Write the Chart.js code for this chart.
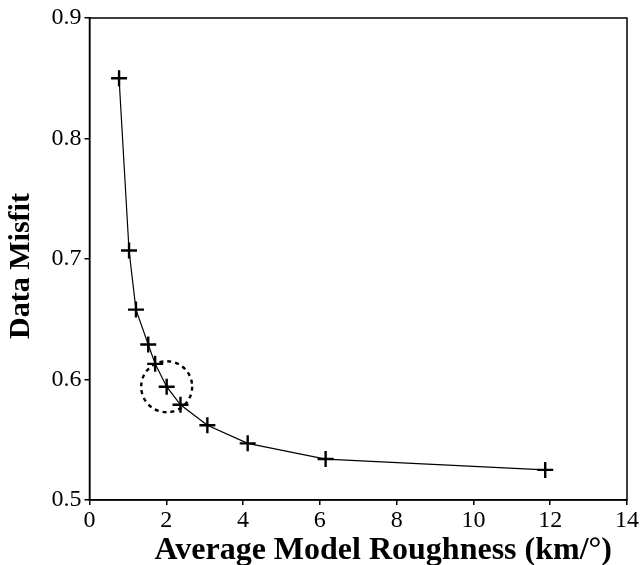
<!DOCTYPE html>
<html lang="en">
  <head>
    <meta charset="UTF-8">
    <title>Data Misfit vs Roughness</title>
    <script src="https://cdn.jsdelivr.net/npm/chart.js@4.3.0/dist/chart.umd.min.js"></script>
    <style>
      body { margin: 0; background: #fff; }
      .wrap { width: 640px; height: 565px; }
    </style>
  </head>
  <body>
<div class="wrap">
  <canvas id="tradeoff"></canvas>
</div>
<script>
// trade-off curve
var roughness = [0.77, 1.03, 1.21, 1.53, 1.71, 2.01, 2.37, 3.07, 4.12, 6.15, 11.87];
var misfit = [0.850, 0.707, 0.658, 0.629, 0.613, 0.594, 0.579, 0.562, 0.547, 0.534, 0.525];
// the chosen model (dashed circle)
var pickX = [2.01];
var pickY = [0.594];
var xTicks = [0, 2, 4, 6, 8, 10, 12, 14];
var yTicks = [0.5, 0.6, 0.7, 0.8, 0.9];
var xTitle = 'Average Model Roughness (km/°)';
var yTitle = 'Data Misfit';

var pts = [];
for (let i = 0; i < roughness.length; i++) {
  pts.push({x: roughness[i], y: misfit[i]});
}

// frame around plot, dashed circle round the picked point, axis titles
var extras = {
  id: 'extras',
  afterDatasetsDraw: function(chart) {
    var c = chart.ctx, a = chart.chartArea;
    c.save();
    c.strokeStyle = '#000';
    c.lineWidth = 1.5;
    c.strokeRect(a.left, a.top, a.right - a.left, a.bottom - a.top);
    c.setLineDash([4, 4]);
    c.lineWidth = 2.4;
    for (let i = 0; i < pickX.length; i++) {
      var px = chart.scales.x.getPixelForValue(pickX[i]);
      var py = chart.scales.y.getPixelForValue(pickY[i]);
      c.beginPath();
      c.arc(px, py, 25.5, 0, Math.PI * 2);
      c.stroke();
    }
    c.setLineDash([]);
    // titles sit a bit off centre in the original
    c.fillStyle = '#000';
    c.textAlign = 'center';
    c.font = 'bold 32px "Liberation Serif"';
    c.textBaseline = 'alphabetic';
    c.fillText(xTitle, (a.left + a.right) / 2 + 25, 559);
    c.font = 'bold 30px "Liberation Serif"';
    c.textBaseline = 'middle';
    c.translate(21, (a.top + a.bottom) / 2 + 7);
    c.rotate(-Math.PI / 2);
    c.fillText(yTitle, 0, 0);
    c.restore();
  }
};

var ctx = document.getElementById('tradeoff').getContext('2d');
var chart = new Chart(ctx, {
  type: 'scatter',
  data: {
    datasets: [{
      data: pts,
      showLine: true,
      borderColor: '#000',
      borderWidth: 1.2,
      pointStyle: 'cross',
      pointRadius: 8,
      pointBorderWidth: 2.4,
      pointBorderColor: '#000',
      pointBackgroundColor: '#000'
    }]
  },
  options: {
    responsive: true,
    maintainAspectRatio: false,
    animation: false,
    layout: { padding: { top: 18, right: 12, left: 0, bottom: 0 } },
    plugins: { legend: { display: false }, tooltip: { enabled: false } },
    scales: {
      x: {
        type: 'linear', min: 0, max: 14,
        afterBuildTicks: function(s) { s.ticks = xTicks.map(v => ({value: v})); },
        afterFit: function(s) { s.height = 65; },
        grid: { drawOnChartArea: false, tickLength: 5, color: '#000', lineWidth: 1.5 },
        border: { color: '#000', width: 1.5 },
        ticks: { color: '#000', padding: 1, maxRotation: 0,
                 font: { family: 'Liberation Serif', size: 24 } }
      },
      y: {
        type: 'linear', min: 0.5, max: 0.9,
        afterBuildTicks: function(s) { s.ticks = yTicks.map(v => ({value: v})); },
        afterFit: function(s) { s.width = 89.5; },
        grid: { drawOnChartArea: false, tickLength: 5, color: '#000', lineWidth: 1.5 },
        border: { color: '#000', width: 1.5 },
        ticks: { color: '#000', padding: 3,
                 callback: function(v) { return v.toFixed(1); },
                 font: { family: 'Liberation Serif', size: 24 } }
      }
    }
  },
  plugins: [extras]
});
</script>
  </body>
</html>
